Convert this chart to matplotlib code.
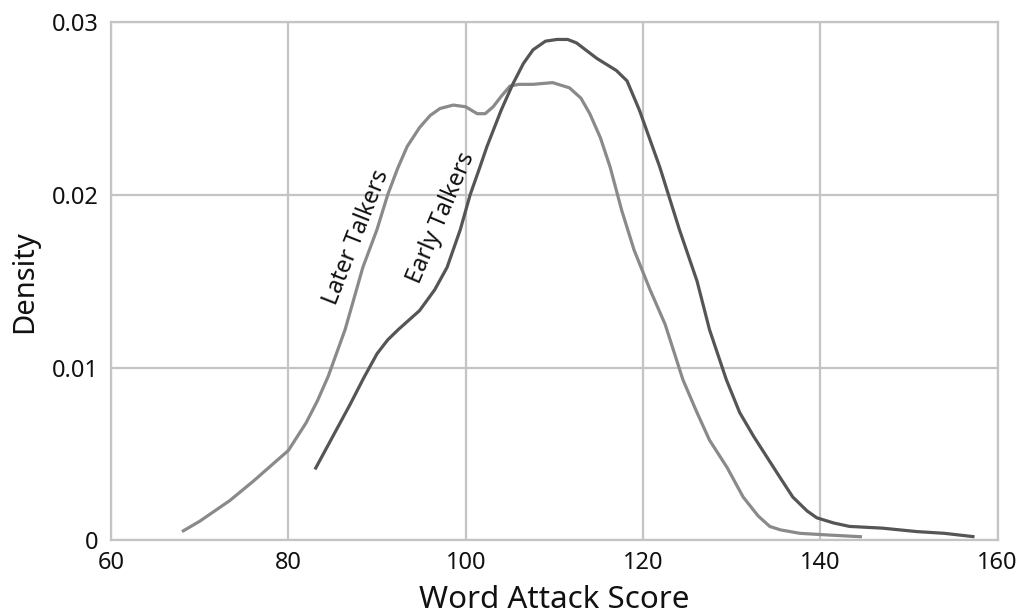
import matplotlib.pyplot as plt

# Density curves (Word Attack Score vs density)
later_x = [68, 70, 73.4, 76, 78, 80, 82, 83.3, 84.5, 86.4, 88.4, 90, 91.2, 92.3,
           93.4, 94.8, 96, 97.1, 98.6, 100, 101.3, 102.2, 103.1, 104, 105, 106,
           107.6, 109.8, 111.7, 113, 114, 115.2, 116.3, 117.6, 119, 120.8, 122.5,
           124.5, 126, 127.5, 129.5, 131.3, 133, 134.3, 135.5, 137.7, 141, 144.7]
later_y = [0.0005, 0.0011, 0.0023, 0.0034, 0.0043, 0.0052, 0.0068, 0.0081, 0.0095,
           0.0122, 0.0158, 0.018, 0.02, 0.0215, 0.0228, 0.0239, 0.0246, 0.025, 0.0252,
           0.0251, 0.0247, 0.0247, 0.0251, 0.0257, 0.0263, 0.0264, 0.0264, 0.0265,
           0.0262, 0.0256, 0.0247, 0.0233, 0.0216, 0.0191, 0.0168, 0.0145, 0.0125,
           0.0093, 0.0075, 0.0058, 0.0042, 0.0025, 0.0014, 0.0008, 0.0006, 0.0004,
           0.0003, 0.0002]

early_x = [83, 85, 87, 88.5, 90, 91.2, 92.4, 94.8, 96.5, 97.9, 99.4, 100.5, 101.6,
           102.4, 104, 105.3, 106.5, 107.6, 109, 110.3, 111.5, 112.5, 114.8, 117,
           118.2, 119.6, 121.9, 124.1, 126.1, 127.5, 129.4, 130.9, 132.5, 134,
           135.5, 136.9, 138.5, 139.6, 141.5, 143.3, 147, 150.9, 154, 157.4]
early_y = [0.0041, 0.006, 0.0079, 0.0094, 0.0108, 0.0116, 0.0122, 0.0133, 0.0145,
           0.0158, 0.018, 0.02, 0.0216, 0.0228, 0.0249, 0.0264, 0.0276, 0.0284, 0.0289,
           0.029, 0.029, 0.0288, 0.0279, 0.0272, 0.0266, 0.0249, 0.0216, 0.018, 0.015,
           0.0122, 0.0093, 0.0074, 0.006, 0.0048, 0.0036, 0.0025, 0.0017, 0.0013,
           0.001, 0.0008, 0.0007, 0.0005, 0.0004, 0.0002]

x_ticks = [60, 80, 100, 120, 140, 160]
y_ticks = [0, 0.01, 0.02, 0.03]
y_tick_labels = ['0', '0.01', '0.02', '0.03']

plt.rcParams['font.family'] = ['Noto Sans', 'DejaVu Sans']

fig = plt.figure(figsize=(10.19, 6.16), dpi=100)
ax = fig.add_axes([0.109, 0.123, 0.870, 0.841])

ax.plot(later_x, later_y, color='#8a8a8a', lw=2.3, solid_capstyle='butt', zorder=3)
ax.plot(early_x, early_y, color='#555555', lw=2.3, solid_capstyle='butt', zorder=4)

ax.set_xlim(60, 160)
ax.set_ylim(0, 0.03)
ax.set_xticks(x_ticks)
ax.set_yticks(y_ticks)
ax.set_yticklabels(y_tick_labels)
ax.tick_params(length=0, labelsize=17, colors='#111111')
ax.tick_params(axis='x', pad=8)
ax.tick_params(axis='y', pad=9)

ax.grid(True, color='#c4c4c4', lw=1.6)
ax.set_axisbelow(True)
for s in ax.spines.values():
    s.set_color('#c4c4c4')
    s.set_linewidth(1.6)

ax.set_xlabel('Word Attack Score', fontsize=22.5, labelpad=7, color='#111111')
ax.set_ylabel('Density', fontsize=21, labelpad=9, color='#111111')

ax.text(87.7, 0.01755, 'Later Talkers', rotation=68.5, ha='center', va='center',
        fontsize=17, style='normal', color='#111111')
ax.text(97.3, 0.01865, 'Early Talkers', rotation=67, ha='center', va='center',
        fontsize=17, style='normal', color='#111111')

fig.savefig('out.png', dpi=100)
